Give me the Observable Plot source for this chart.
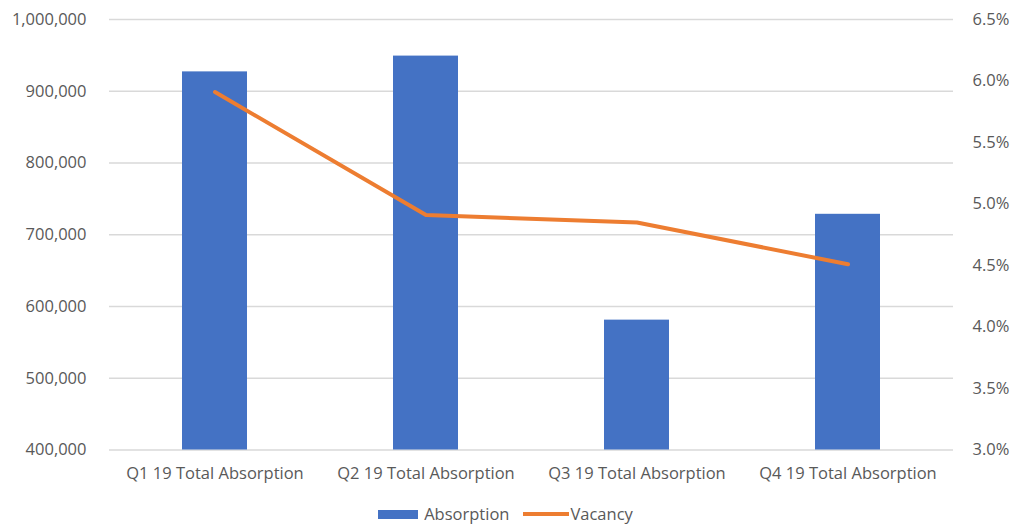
<!DOCTYPE html>
<html><head><meta charset="utf-8">
<script src="https://cdn.jsdelivr.net/npm/d3@7"></script>
<script src="https://cdn.jsdelivr.net/npm/@observablehq/plot@0.6"></script>
<style>
body{margin:0;background:#fff;font-family:"Open Sans",sans-serif;}
#legend{display:flex;justify-content:center;gap:14px;font-size:16.5px;color:#595959;margin-top:2px;}
#legend span{display:inline-flex;align-items:center;}
</style>
</head><body>
<div id="chart"></div>
<div id="legend"></div>
<script>
const categories = ["Q1 19 Total Absorption","Q2 19 Total Absorption","Q3 19 Total Absorption","Q4 19 Total Absorption"];
const absorption = [927000, 949000, 581000, 728500];
const vacancy = [5.91, 4.91, 4.85, 4.51];
const leftTicks = [400000,500000,600000,700000,800000,900000,1000000];
const rightTicks = [3.0,3.5,4.0,4.5,5.0,5.5,6.0,6.5];

const yMin = 400000, yMax = 1000000, vMin = 3.0, vMax = 6.5;
const toLeft = v => yMin + (v - vMin) / (vMax - vMin) * (yMax - yMin);
const toRight = y => vMin + (y - yMin) / (yMax - yMin) * (vMax - vMin);

const rows = categories.map((c,i)=>({cat:c, abs:absorption[i], vac:vacancy[i]}));
const gray = "#595959";

const chart = Plot.plot({
  width: 1011, height: 500,
  marginTop: 19, marginBottom: 50.5, marginLeft: 109, marginRight: 58,
  style: {fontFamily: "'Open Sans', sans-serif", fontSize: "16.5px", color: gray, background: "#fff"},
  x: {domain: categories, paddingInner: 0.69, paddingOuter: 0.345, label: null},
  y: {domain: [yMin, yMax], label: null},
  marks: [
    Plot.gridY(leftTicks, {stroke: "#d9d9d9", strokeOpacity: 1, strokeWidth: 1.3}),
    Plot.barY(rows, {x: "cat", y1: yMin, y2: "abs", fill: "#4472C4"}),
    Plot.lineY(rows, {x: "cat", y: d => toLeft(d.vac), stroke: "#ED7D31", strokeWidth: 4, strokeLinejoin: "round", strokeLinecap: "round"}),
    Plot.axisY({ticks: leftTicks, anchor: "left", tickSize: 0, tickPadding: 23, tickFormat: d3.format(","), label: null, fill: gray}),
    Plot.axisY({ticks: rightTicks.map(toLeft), anchor: "right", tickSize: 0, tickPadding: 19, tickFormat: d => toRight(d).toFixed(1) + "%", label: null, fill: gray}),
    Plot.axisX({tickSize: 0, tickPadding: 17, label: null, fill: gray})
  ]
});
document.getElementById("chart").appendChild(chart);

const legend = document.getElementById("legend");
legend.innerHTML = `<span><svg width="44" height="12" style="margin-right:2px"><rect x="0" y="2" width="40" height="9" fill="#4472C4"/></svg>Absorption</span>
<span><svg width="46" height="12" style="margin-right:1px"><line x1="0" y1="6" x2="46" y2="6" stroke="#ED7D31" stroke-width="4"/></svg>Vacancy</span>`;
</script>
</body></html>
